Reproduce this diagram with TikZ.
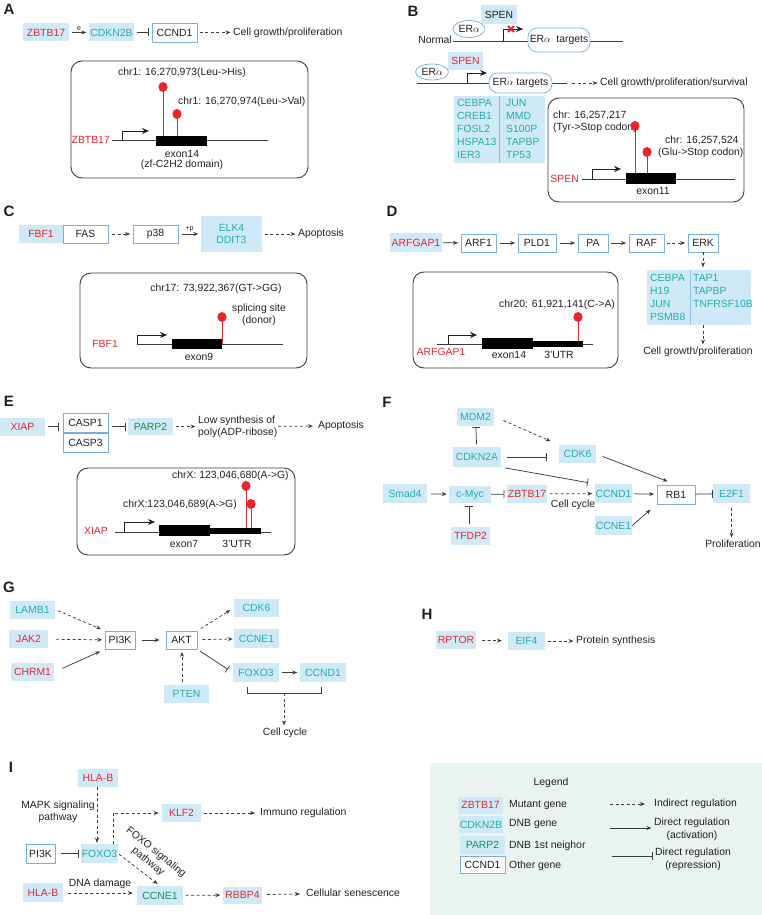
\documentclass[tikz,border=0pt]{standalone}
\usepackage{fontspec}
\setmainfont{Liberation Sans}
\usepackage{tikz}
\usetikzlibrary{arrows.meta,shapes.geometric}
\definecolor{boxblue}{RGB}{207,234,246}
\definecolor{edgeblue}{RGB}{120,175,220}
\definecolor{mutred}{RGB}{232,38,48}
\definecolor{dnbteal}{RGB}{38,172,172}
\definecolor{nbrgreen}{RGB}{28,140,88}
\definecolor{txt}{RGB}{35,31,32}
\definecolor{legbg}{RGB}{233,243,240}
\definecolor{linegray}{RGB}{60,60,60}
\newcommand{\gfont}{\fontsize{10.4}{12.6}\selectfont}
\newcommand{\tblfont}{\fontsize{10.4}{12.8}\selectfont}
\newcommand{\tinyfont}{\fontsize{7}{8}\selectfont}
\newcommand{\panelfont}{\fontsize{15}{17}\selectfont\bfseries}
\newcommand{\linew}{0.75pt}
\newcommand{\boxh}{18pt}
\newcommand{\lollipop}[3]{\draw[lollistick] (#1,#3) -- (#1,#2);
  \fill[mutred] (#1,#2) ellipse (4.6pt and 5pt);}

\begin{document}
\begin{tikzpicture}[x=1pt,y=-1pt]
  \useasboundingbox (0,0) rectangle (762,915);
  \begin{scope}
  %\draw[help lines] (0,0) grid (762,915);
    \tikzset{every node/.style={font=\gfont, text=txt, inner sep=0pt},
      gene/.style={rectangle, minimum height=\boxh},
      mut/.style={gene, fill=boxblue, text=mutred},
      dnb/.style={gene, fill=boxblue, text=dnbteal},
      nbr/.style={gene, fill=boxblue, text=nbrgreen},
      blu/.style={gene, fill=boxblue},
      oth/.style={gene, draw=edgeblue, fill=white, line width=\linew},
      erbox/.style={ellipse, draw=edgeblue, fill=white, line width=\linew},
      tgt/.style={rectangle, rounded corners=9pt, draw=edgeblue, fill=white, line width=\linew},
      tbl/.style={fill=boxblue},
      divider/.style={draw=edgeblue!80, line width=0.5pt},
      panel/.style={font=\panelfont},
      link/.style={draw=linegray, line width=\linew, shorten <=2.5pt, shorten >=2.5pt},
      act/.style={link, -{Stealth[length=5pt,width=4pt]}},
      ind/.style={act, dash pattern=on 3pt off 2.5pt},
      rep/.style={link, -{Bar[width=8pt]}},
      panelbox/.style={draw=linegray, line width=0.9pt, rounded corners=11pt},
      geneline/.style={draw=linegray, line width=\linew},
      promo/.style={draw=txt, line width=\linew, -{Stealth[length=7pt,width=6pt]}},
      exon/.style={fill=black},
      lollistick/.style={draw=mutred, line width=0.9pt},
      xmark/.style={draw=mutred, line width=1.8pt}}

    % A
    \node[panel] (labA) at (9,9) {A};
    \node[mut, minimum width=46pt] (zbtbA) at (46,32.5) {ZBTB17};
    \node[dnb, minimum width=45pt] (cdknA) at (111.5,32.5) {CDKN2B};
    \node[oth, minimum width=45pt, minimum height=19pt] (ccndA) at (174.5,32.5) {CCND1};
    \node[anchor=west] (growA) at (233,32.5) {Cell growth/proliferation};
    \draw[act] (zbtbA) -- node[above=2pt, font=\tinyfont] {e} (cdknA);
    \draw[rep] (cdknA) -- (ccndA);
    \draw[ind] (ccndA) -- (growA);
    \draw[panelbox] (71,61) rectangle (308,178);
    \node (mutA1) at (182,73) {chr1: 16,270,973(Leu->His)};
    \node[anchor=west] (mutA2) at (178,102) {chr1: 16,270,974(Leu->Val)};
    \draw[geneline] (112,140) -- (268,140);
    \draw[promo] (122,140) |- (149,131);
    \lollipop{163}{87}{136}
    \lollipop{177}{114}{136}
    \fill[exon] (156,136) rectangle (207,146);
    \node[anchor=east, text=mutred] (gA) at (110,140) {ZBTB17};
    \node (exA) at (182,154) {exon14};
    \node (domA) at (182,165) {(zf-C2H2 domain)};

    % B
    \node[panel] (labB) at (413,11) {B};
    \node[blu, minimum width=36pt, minimum height=19pt] (spenB1) at (499,14.5) {SPEN};
    \draw[geneline] (453,41) -- (623,41);
    \node[erbox, minimum width=32pt, minimum height=17pt] (erB1) at (469,29) {ER$\alpha$};
    \node[anchor=east] (normB) at (452,40) {Normal};
    \draw[promo] (503,41) |- (523,29);
    \draw[xmark] (508,26) -- (514,32) (508,32) -- (514,26);
    \node[tgt, minimum width=62pt, minimum height=24pt] (tgtB1) at (559,40) {ER$\alpha$\ \ targets};
    \node[mut, minimum width=35pt] (spenB2) at (465.5,61) {SPEN};
    \draw[geneline] (417,83) -- (567,83);
    \node[erbox, minimum width=33pt, minimum height=16pt] (erB2) at (432,72) {ER$\alpha$};
    \draw[promo] (467,83) |- (487,73);
    \node[tgt, minimum width=63pt, minimum height=20pt] (tgtB2) at (520.5,83) {ER$\alpha$ targets};
    \coordinate (endB2) at (567,83);
    \node[anchor=west] (growB) at (600,83) {Cell growth/proliferation/survival};
    \draw[ind, shorten <=5pt] (endB2) -- (growB);
    \fill[tbl] (454,96) rectangle (545,163);
    \draw[divider] (499,96) -- (499,163);
    \node[anchor=north west, align=left, font=\tblfont, text=dnbteal] (tabB1) at (457,99.5) {CEBPA\\CREB1\\FOSL2\\HSPA13\\IER3};
    \node[anchor=north west, align=left, font=\tblfont, text=dnbteal] (tabB2) at (506,99.5) {JUN\\MMD\\S100P\\TAPBP\\TP53};
    \draw[panelbox] (548,98) rectangle (744,202);
    \node[anchor=west] (mutB1) at (553,115) {chr: 16,257,217};
    \node[anchor=west] (mutB1b) at (553,128) {(Tyr->Stop codon)};
    \node[anchor=west] (mutB2) at (665,140) {chr: 16,257,524};
    \node[anchor=west] (mutB2b) at (658,153) {(Glu->Stop codon)};
    \draw[geneline] (582,179) -- (735,179);
    \draw[promo] (592,179) |- (621,169);
    \lollipop{635}{126}{173}
    \lollipop{647}{152}{173}
    \fill[exon] (626,173) rectangle (676,184);
    \node[anchor=east, text=mutred] (gB) at (579,179) {SPEN};
    \node (exB) at (653,191) {exon11};

    % C
    \node[panel] (labC) at (9,211) {C};
    \node[mut, minimum width=44pt] (fbfC) at (41,234) {FBF1};
    \node[oth, minimum width=45pt] (fasC) at (85.5,234) {FAS};
    \node[oth, minimum width=45pt] (p38C) at (155.5,234) {p38};
    \node[dnb, minimum width=61pt, minimum height=36pt, align=center] (elkC) at (231.5,234) {ELK4\\DDIT3};
    \node[anchor=west] (apoC) at (298,234) {Apoptosis};
    \draw[ind, shorten <=4pt] (fasC) -- (p38C);
    \draw[act, shorten <=4pt] (p38C) -- node[above=1.5pt, font=\tinyfont] {+p} (elkC);
    \draw[ind] (elkC) -- (apoC);
    \draw[panelbox] (80,273) rectangle (307,368);
    \node (mutC) at (216,289) {chr17: 73,922,367(GT->GG)};
    \node[align=center] (spliceC) at (259,315) {splicing site\\(donor)};
    \draw[geneline] (137,344) -- (283,344);
    \draw[promo] (137,344) |- (167,335);
    \lollipop{222}{317}{344}
    \fill[exon] (172,339) rectangle (222,349);
    \node[anchor=east, text=mutred] (gC) at (118,344) {FBF1};
    \node (exC) at (199,357) {exon9};

    % D
    \node[panel] (labD) at (392,211) {D};
    \node[mut, minimum width=52pt, minimum height=19pt] (arfgD) at (416,242.5) {ARFGAP1};
    \node[oth, minimum width=35pt] (arfD) at (478.5,243) {ARF1};
    \node[oth, minimum width=38pt] (pldD) at (537,243) {PLD1};
    \node[oth, minimum width=30pt] (paD) at (593,243) {PA};
    \node[oth, minimum width=35pt] (rafD) at (646.5,243) {RAF};
    \node[oth, minimum width=30pt] (erkD) at (703,243) {ERK};
    \draw[act, shorten <=1pt] (arfgD) -- (arfD);
    \draw[act, shorten <=4pt] (arfD) -- (pldD);
    \draw[act, shorten <=4pt] (pldD) -- (paD);
    \draw[act] (paD) -- (rafD);
    \draw[ind] (rafD) -- (erkD);
    \node[tbl, minimum width=104pt, minimum height=55pt] (tabD) at (699,297.5) {};
    \draw[divider] (690,270) -- (690,325);
    \node[anchor=north west, align=left, font=\tblfont, text=dnbteal] (tabD1) at (650,274.5) {CEBPA\\H19\\JUN\\PSMB8};
    \node[anchor=north west, align=left, font=\tblfont, text=dnbteal] (tabD2) at (693,274.5) {TAP1\\TAPBP\\TNFRSF10B};
    \node (growD) at (698,352) {Cell growth/proliferation};
    \draw[ind, shorten <=0pt] (erkD) -- (erkD |- tabD.north);
    \draw[ind, shorten <=0pt] (erkD |- tabD.south) -- (erkD |- growD.north);
    \draw[panelbox] (413,272) rectangle (618,368);
    \node[anchor=west] (mutD) at (499,305) {chr20: 61,921,141(C->A)};
    \draw[geneline] (437,344) -- (593,344);
    \draw[promo] (448,344) |- (477,335);
    \lollipop{578}{317}{341}
    \fill[exon] (482,338) rectangle (533,349);
    \fill[exon] (533,341) rectangle (583,347);
    \node[text=mutred] (gD) at (441,352) {ARFGAP1};
    \node (exD) at (509,355) {exon14};
    \node (utrD) at (559,355) {3'UTR};

    % E
    \node[panel] (labE) at (9,401) {E};
    \node[mut, minimum width=45pt] (xiapE) at (22.5,426.5) {XIAP};
    \node[oth, minimum width=45pt, minimum height=19pt] (casp1E) at (85.5,422.5) {CASP1};
    \node[oth, minimum width=45pt, minimum height=19pt] (casp3E) at (85.5,442.5) {CASP3};
    \node[nbr, minimum width=45pt, minimum height=17pt] (parpE) at (150.5,426.5) {PARP2};
    \node[anchor=west, align=left] (lowE) at (198,427) {Low synthesis of\\poly(ADP-ribose)};
    \node[anchor=west] (apoE) at (318,426) {Apoptosis};
    \draw[rep, shorten >=4pt] (xiapE) -- (xiapE -| casp1E.west);
    \draw[rep, shorten <=4pt] (casp1E.east |- parpE) -- (parpE);
    \draw[ind] (parpE) -- (parpE -| lowE.west);
    \draw[ind, shorten <=80pt, shorten >=5pt] (parpE -| lowE.west) -- (apoE);
    \draw[panelbox] (77,468) rectangle (295,555);
    \node[anchor=west] (mutE1) at (172,476) {chrX: 123,046,680(A->G)};
    \node[anchor=west] (mutE2) at (123,505) {chrX:123,046,689(A->G)};
    \draw[geneline] (115,532) -- (271,532);
    \draw[promo] (124,532) |- (155,522);
    \lollipop{246}{486}{528}
    \lollipop{251}{504}{528}
    \fill[exon] (159,525) rectangle (210,536);
    \fill[exon] (210,528) rectangle (261,534);
    \node[anchor=east, text=mutred] (gE) at (108,531) {XIAP};
    \node (exE) at (184,544) {exon7};
    \node (utrE) at (237,544) {3'UTR};

    % F
    \node[panel] (labF) at (387,402) {F};
    \node[dnb, minimum width=37pt] (mdmF) at (475.5,416.5) {MDM2};
    \node[dnb, minimum width=48pt, minimum height=20pt] (cdknF) at (477,457) {CDKN2A};
    \node[dnb, minimum width=37pt] (cdk6F) at (577.5,454) {CDK6};
    \node[dnb, minimum width=44pt, minimum height=19pt] (smadF) at (405,493.5) {Smad4};
    \node[dnb, minimum width=42pt, minimum height=17pt] (mycF) at (470,494.5) {c-Myc};
    \node[mut, minimum width=40pt] (zbtbF) at (527,494) {ZBTB17};
    \node[dnb, minimum width=37pt, minimum height=19pt] (ccndF) at (613.5,493.5) {CCND1};
    \node[oth, minimum width=38pt, minimum height=19pt] (rbF) at (676,494.5) {RB1};
    \node[dnb, minimum width=37pt, minimum height=19pt] (ccneF) at (613.5,525.5) {CCNE1};
    \node[dnb, minimum width=37pt, minimum height=19pt] (e2fF) at (731.5,493.5) {E2F1};
    \node[mut, minimum width=39pt] (tfdpF) at (470.5,536) {TFDP2};
    \node (cycF) at (573,504.5) {Cell cycle};
    \node (proF) at (733,544) {Proliferation};
    \draw[rep, shorten >=1.5pt] (cdknF) -- (mdmF);
    \draw[ind, shorten <=10pt, shorten >=9pt] (mdmF.east) -- (cdk6F.north west);
    \draw[rep, shorten <=6pt, shorten >=12pt] (cdknF) -- (cdknF -| cdk6F.west);
    \draw[rep, shorten <=4pt, shorten >=7pt] (cdknF.south east) -- (ccndF.north west);
    \draw[act, shorten <=4pt, shorten >=2pt] (smadF) -- (mycF);
    \draw[rep, shorten <=0pt] (mycF) -- (zbtbF);
    \draw[ind] (zbtbF) -- (ccndF);
    \draw[act] (ccndF) -- (rbF);
    \draw[act, shorten <=7pt, shorten >=9pt] (cdk6F.east) -- (rbF.north);
    \draw[act, shorten <=0pt, shorten >=8pt] (ccneF.east) -- (rbF.south west);
    \draw[rep, shorten <=0pt, shorten >=0pt] (rbF) -- (e2fF);
    \draw[rep, shorten >=3pt] (tfdpF.north -| 469,0) -- (mycF.south -| 469,0);
    \draw[ind] (e2fF.south |- 0,505) -- (e2fF.south |- proF.north);

    % G
    \node[panel] (labG) at (9,587) {G};
    \node[dnb, minimum width=45pt] (lambG) at (32.5,609.5) {LAMB1};
    \node[mut, minimum width=39pt] (jakG) at (28.5,639) {JAK2};
    \node[mut, minimum width=43pt] (chrmG) at (32.5,672) {CHRM1};
    \node[oth, minimum width=30pt] (pikG) at (120,640) {PI3K};
    \node[oth, minimum width=31pt] (aktG) at (181.5,640) {AKT};
    \node[dnb, minimum width=45pt] (cdkG) at (256.5,608) {CDK6};
    \node[dnb, minimum width=45pt, minimum height=19pt] (ccneG) at (256.5,638.5) {CCNE1};
    \node[dnb, minimum width=46pt, minimum height=19pt] (foxG) at (256,672.5) {FOXO3};
    \node[dnb, minimum width=46pt, minimum height=19pt] (ccndG) at (323,672.5) {CCND1};
    \node[dnb, minimum width=45pt] (ptenG) at (186.5,694) {PTEN};
    \node (cycG) at (285,733) {Cell cycle};
    \draw[ind, shorten <=3pt, shorten >=4pt] (lambG.east) -- (pikG.north west);
    \draw[ind, shorten <=8pt] (jakG) -- (pikG);
    \draw[act, shorten <=9pt, shorten >=5pt] (chrmG.east) -- (pikG.south west);
    \draw[act, shorten <=7pt, shorten >=6pt] (pikG) -- (aktG);
    \draw[ind, shorten <=4pt, shorten >=4pt] (aktG.north east) -- (cdkG.west);
    \draw[ind, shorten <=5pt, shorten >=1pt] (aktG) -- (ccneG);
    \draw[rep, shorten <=3pt, shorten >=6pt] (aktG.south east) -- (foxG.west);
    \draw[act] (foxG) -- (ccndG);
    \draw[ind] (ptenG.north -| 182,0) -- (aktG.south -| 182,0);
    \draw[geneline] (247,687) -- (247,693) -- (321,693) -- (321,687);
    \coordinate (brG) at (284,693);
    \draw[ind, shorten <=0pt] (brG) -- (brG |- cycG.north);

    % H
    \node[panel] (labH) at (427,614) {H};
    \node[mut, minimum width=40pt] (rptH) at (456,640) {RPTOR};
    \node[dnb, minimum width=37pt] (eifH) at (526.5,641) {EIF4};
    \node[anchor=west] (proH) at (576,641) {Protein synthesis};
    \draw[ind, shorten <=6pt, shorten >=6pt] (rptH) -- (eifH);
    \draw[ind] (eifH) -- (proH);

    % I
    \node[panel] (labI) at (11,767) {I};
    \node[mut, minimum width=40pt] (hlaI1) at (98,778) {HLA-B};
    \node[align=center] (mapkI) at (58,812) {MAPK signaling\\pathway};
    \node[dnb, minimum width=37pt, minimum height=19pt] (foxI) at (99.5,853.5) {FOXO3};
    \node[oth, minimum width=29pt, minimum height=19pt] (pikI) at (40.5,853.5) {PI3K};
    \node[mut, minimum width=39pt] (klfI) at (181.5,813) {KLF2};
    \node[anchor=west] (immI) at (260,813) {Immuno regulation};
    \node[mut, minimum width=40pt, minimum height=19pt] (hlaI2) at (43,892.5) {HLA-B};
    \node (dnaI) at (100,884) {DNA damage};
    \node[nbr, minimum width=46pt, minimum height=19pt] (ccneI) at (160,895.5) {CCNE1};
    \node[mut, minimum width=39pt, minimum height=17pt] (rbbI) at (242.5,895) {RBBP4};
    \node[anchor=west] (senI) at (306,893) {Cellular senescence};
    \node[rotate=-39, align=center] (foxoI) at (152,857) {FOXO signaling\\pathway};
    \draw[ind, shorten <=0pt, shorten >=1pt] (hlaI1.south -| 97,0) -- (foxI.north -| 97,0);
    \draw[rep, shorten <=6pt] (pikI) -- (foxI);
    \draw[ind, shorten <=0pt, shorten >=3pt] ([xshift=-5pt]foxI.north east) |- (klfI.west);
    \draw[ind, shorten >=5pt] (klfI) -- (immI);
    \draw[ind, shorten <=1pt, shorten >=3pt] (foxI.east) -- (ccneI.north);
    \draw[ind, shorten <=5pt, shorten >=4pt] (hlaI2.east |- 0,893) -- (ccneI.west |- 0,893);
    \draw[ind] (ccneI) -- (rbbI);
    \draw[ind, shorten <=5pt, shorten >=6pt] (rbbI) -- (senI);

    % legend
    \fill[legbg] (430,763) rectangle (762,915);
    \node (legT) at (551,783) {Legend};
    \node[mut, minimum width=45pt, minimum height=17pt] (legM) at (480.5,805) {ZBTB17};
    \node[dnb, minimum width=44pt, minimum height=17pt] (legD) at (481,824.5) {CDKN2B};
    \node[nbr, minimum width=45pt, minimum height=18pt] (legN) at (482.5,845) {PARP2};
    \node[oth, minimum width=45pt, minimum height=17pt] (legO) at (482.5,864.5) {CCND1};
    \node[anchor=west] (legMt) at (509,805) {Mutant gene};
    \node[anchor=west] (legDt) at (509,824) {DNB gene};
    \node[anchor=west] (legNt) at (509,846) {DNB 1st neighor};
    \node[anchor=west] (legOt) at (509,866) {Other gene};
    \coordinate (legI0) at (610,804);
    \node[anchor=west] (legIt) at (654,804) {Indirect regulation};
    \draw[ind, shorten <=0pt, shorten >=9pt] (legI0) -- (legIt);
    \coordinate (legA0) at (610,828);
    \node[align=center] (legAt) at (692,829.5) {Direct regulation\\(activation)};
    \draw[act, shorten <=0pt] (legA0) -- (legA0 -| legAt.west);
    \coordinate (legR0) at (612,856);
    \node[align=center] (legRt) at (693,859.5) {Direct regulation\\(repression)};
    \draw[rep, shorten <=0pt] (legR0) -- (legR0 -| legRt.west);
  \end{scope}
\end{tikzpicture}
\end{document}
